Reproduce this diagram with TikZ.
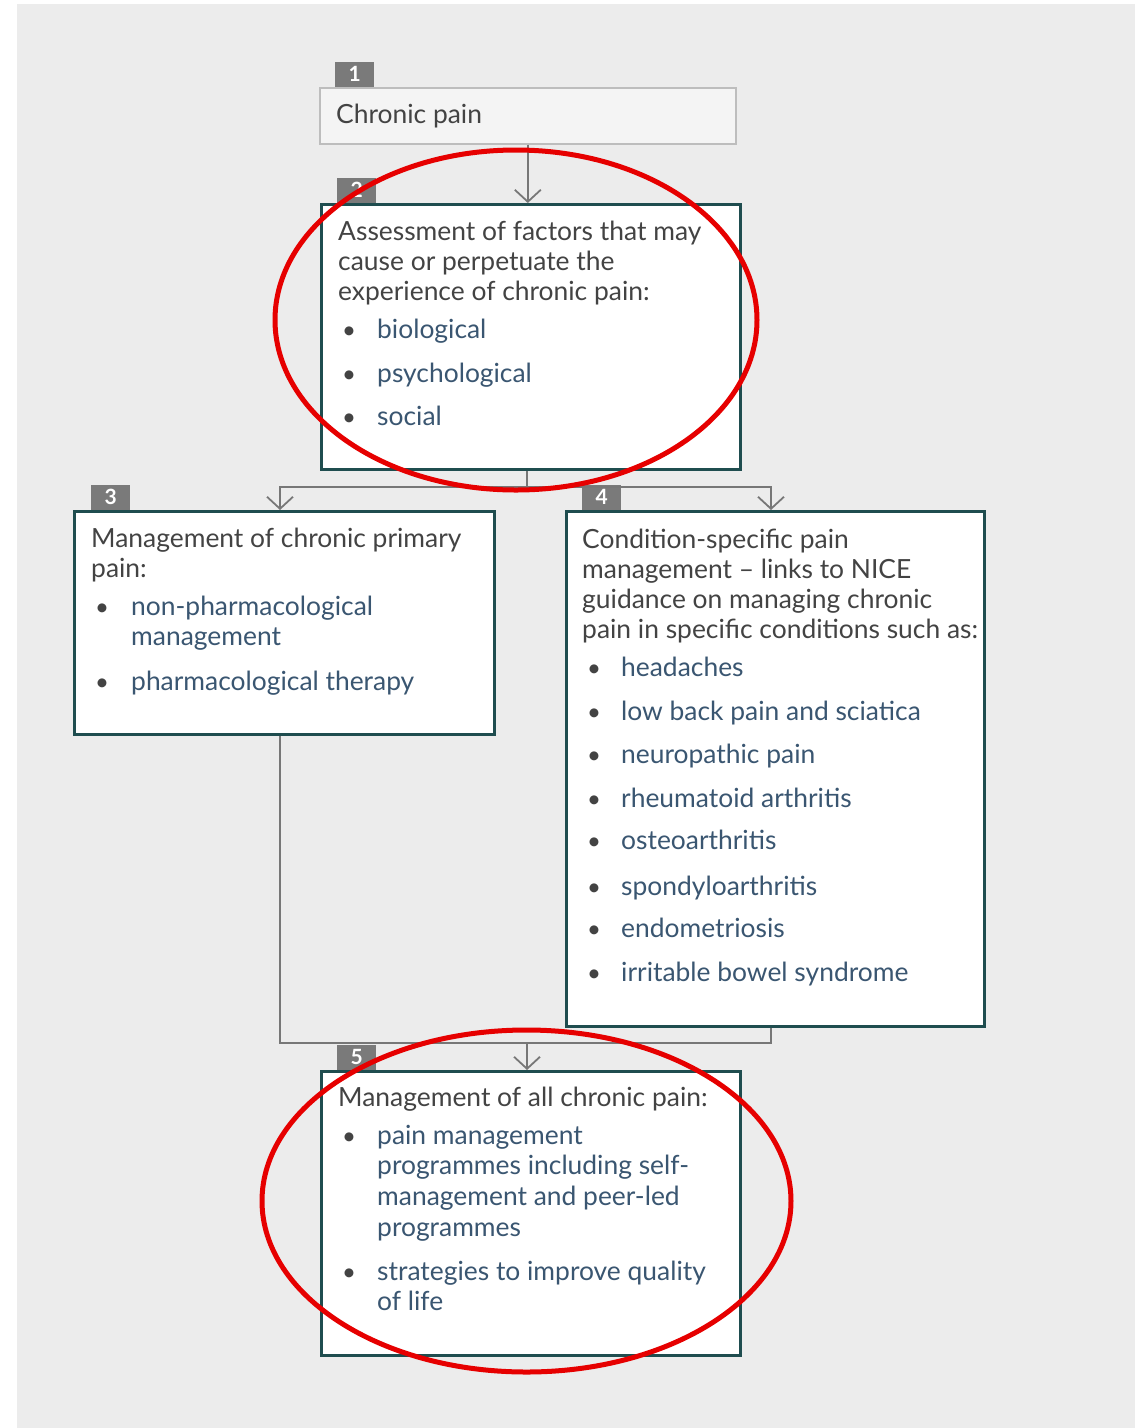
\documentclass[tikz,border=0pt]{standalone}
\usepackage{fontspec}
\setmainfont{Lato}
\usetikzlibrary{arrows.meta}
\definecolor{bgc}{HTML}{ECECEC}
\definecolor{teal}{HTML}{1F4D4F}
\definecolor{headc}{HTML}{434343}
\definecolor{bluec}{HTML}{3A5671}
\definecolor{badgec}{HTML}{7A7A7A}
\definecolor{linec}{HTML}{777777}
\definecolor{redc}{HTML}{E60000}
\definecolor{box1c}{HTML}{F4F4F4}
\definecolor{box1b}{HTML}{BDBDBD}
\tikzset{
  bigbox/.style={draw=teal, line width=3pt, fill=white, inner sep=0pt, anchor=north west},
  firstbox/.style={draw=box1b, line width=1.6pt, fill=box1c, inner sep=0pt, anchor=north west},
  badge/.style={fill=badgec, inner sep=0pt, minimum width=39pt, minimum height=25pt, anchor=south west,
    text=white, font=\fontsize{21}{21}\selectfont\bfseries},
  hd/.style={anchor=base west, inner sep=0pt, text=headc, font=\fontsize{26.4}{30}\selectfont},
  it/.style={anchor=base west, inner sep=0pt, text=bluec, font=\fontsize{26.4}{30}\selectfont},
  bl/.style={anchor=base, inner sep=0pt, text=headc, font=\fontsize{24}{30}\selectfont},
  conn/.style={draw=linec, line width=1.8pt},
  arr/.style={conn, -{Straight Barb[length=12pt, width=26pt, line width=1.8pt]}},
  ring/.style={draw=redc, line width=5pt}
}
\begin{document}
\begin{tikzpicture}[x=1pt, y=-1pt]
\useasboundingbox (0,0) rectangle (1135,1428);
\fill[white] (0,0) rectangle (1135,1428);
\fill[bgc] (17,4) rectangle (1135,1428);

% boxes
\node[firstbox, minimum width=416pt, minimum height=56pt] (b1) at (319,87) {};
\node[bigbox, minimum width=419pt, minimum height=265pt] (b2) at (320,203) {};
\node[bigbox, minimum width=420pt, minimum height=223pt] (b3) at (73,510) {};
\node[bigbox, minimum width=418pt, minimum height=515pt] (b4) at (565,510) {};
\node[bigbox, minimum width=419pt, minimum height=284pt] (b5) at (320,1070) {};

% badges
\node[badge] (n1) at (335,87) {1};
\node[badge] (n2) at (337,203) {2};
\node[badge] (n3) at (91,510) {3};
\node[badge] (n4) at (582,510) {4};
\node[badge] (n5) at (337,1070) {5};

% connectors
\coordinate (j1) at (527,487);
\coordinate (j2) at (527,1043);
\coordinate (x3) at (280,500);
\coordinate (x4) at (771,500);
\draw[arr] (b1.south) -- (b1.south |- b2.north);
\draw[conn] (j1 |- b2.south) -- (j1);
\draw[arr] (j1) -| (x3 |- b3.north);
\draw[arr] (j1) -| (x4 |- b4.north);
\draw[conn] (x3 |- b3.south) |- (j2);
\draw[conn] (x4 |- b4.south) |- (j2);
\draw[arr] (j2) -- (j2 |- b5.north);

% box 1
\node[hd] (t1) at (336,123) {Chronic pain};

% box 2
\node[hd] (t2a) at (338,240) {Assessment of factors that may};
\node[hd] (t2b) at (338,270) {cause or perpetuate the};
\node[hd] (t2c) at (338,300) {experience of chronic pain:};
\node[bl] (u2a) at (349,338) {\textbullet};
\node[it] (t2d) at (377,338) {biological};
\node[bl] (u2b) at (349,382) {\textbullet};
\node[it] (t2e) at (377,382) {psychological};
\node[bl] (u2c) at (349,425) {\textbullet};
\node[it] (t2f) at (377,425) {social};

% box 3
\node[hd] (t3a) at (91,547) {Management of chronic primary};
\node[hd] (t3b) at (91,577) {pain:};
\node[bl] (u3a) at (102,615) {\textbullet};
\node[it] (t3c) at (131,615) {non-pharmacological};
\node[it] (t3d) at (131,645) {management};
\node[bl] (u3b) at (102,690) {\textbullet};
\node[it] (t3e) at (131,690) {pharmacological therapy};

% box 4
\node[hd] (t4a) at (582,548) {Condition-specific pain};
\node[hd] (t4b) at (582,578) {management -- links to NICE};
\node[hd] (t4c) at (582,608) {guidance on managing chronic};
\node[hd] (t4d) at (582,638) {pain in specific conditions such as:};
\node[bl] (u4a) at (594,676) {\textbullet};
\node[it] (t4e) at (621,676) {headaches};
\node[bl] (u4b) at (594,720) {\textbullet};
\node[it] (t4f) at (621,720) {low back pain and sciatica};
\node[bl] (u4c) at (594,763) {\textbullet};
\node[it] (t4g) at (621,763) {neuropathic pain};
\node[bl] (u4d) at (594,807) {\textbullet};
\node[it] (t4h) at (621,807) {rheumatoid arthritis};
\node[bl] (u4e) at (594,849) {\textbullet};
\node[it] (t4i) at (621,849) {osteoarthritis};
\node[bl] (u4f) at (594,895) {\textbullet};
\node[it] (t4j) at (621,895) {spondyloarthritis};
\node[bl] (u4g) at (594,937) {\textbullet};
\node[it] (t4k) at (621,937) {endometriosis};
\node[bl] (u4h) at (594,981) {\textbullet};
\node[it] (t4l) at (621,981) {irritable bowel syndrome};

% box 5
\node[hd] (t5a) at (338,1106) {Management of all chronic pain:};
\node[bl] (u5a) at (349,1144) {\textbullet};
\node[it] (t5b) at (377,1144) {pain management};
\node[it] (t5c) at (377,1174) {programmes including self-};
\node[it] (t5d) at (377,1205) {management and peer-led};
\node[it] (t5e) at (377,1236) {programmes};
\node[bl] (u5b) at (349,1280) {\textbullet};
\node[it] (t5f) at (377,1280) {strategies to improve quality};
\node[it] (t5g) at (377,1310) {of life};

% red annotation ellipses
\draw[ring] (516,320) ellipse [x radius=241pt, y radius=170pt];
\draw[ring] (526.5,1201) ellipse [x radius=264.5pt, y radius=171pt];
\end{tikzpicture}
\end{document}
